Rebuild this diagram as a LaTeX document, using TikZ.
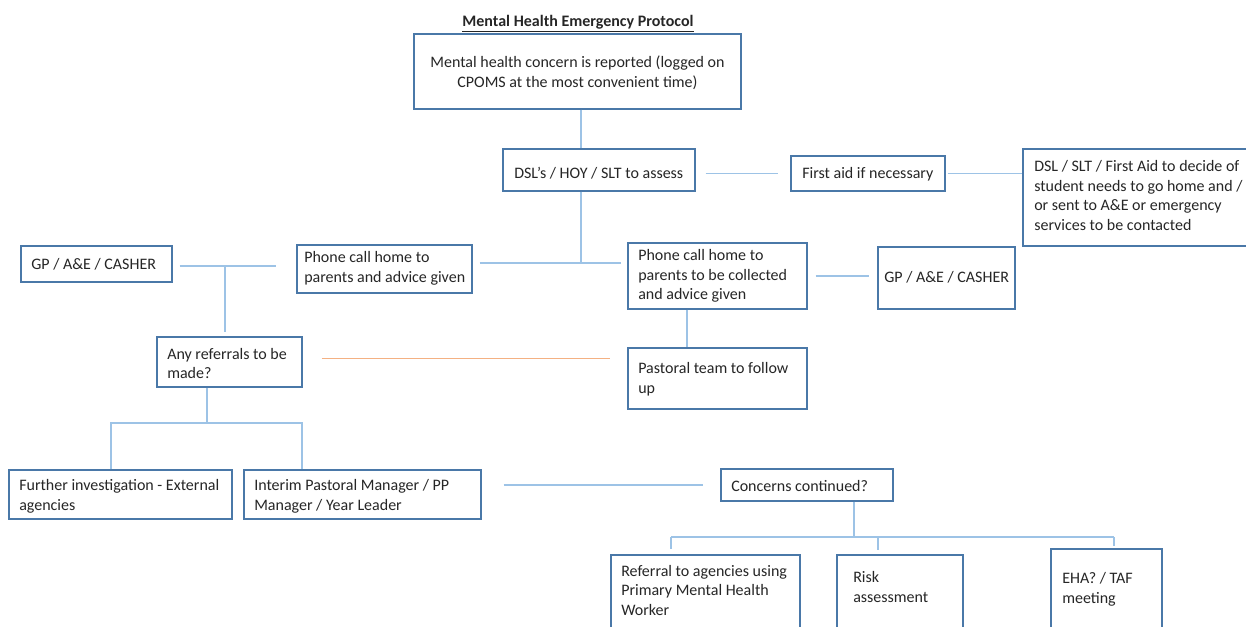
\documentclass[tikz,border=0pt]{standalone}
\usepackage{fontspec}
\setmainfont{Carlito}
\usetikzlibrary{fit,calc}
\definecolor{boxc}{HTML}{4A78A8}
\definecolor{linec}{HTML}{9DC3E6}
\definecolor{orangec}{HTML}{F4B183}
\definecolor{textc}{HTML}{262626}
\tikzset{
  box/.style={draw=boxc, line width=1.1pt, inner sep=0pt, fill=white},
  txt/.style={text=textc, font=\fontsize{12pt}{14.8pt}\selectfont, align=left, inner sep=0pt, anchor=west, yshift=-1.1pt},
  conn/.style={draw=linec, line width=1pt},
  oconn/.style={draw=orangec, line width=1pt},
}
\begin{document}
\begin{tikzpicture}[x=0.75pt,y=-0.75pt]
\useasboundingbox (0,0) rectangle (1246,627);
\clip (0,0) rectangle (1246,627);

% junction coordinates
\coordinate (j1) at (581,263);
\coordinate (j2) at (687,0);
\coordinate (j3) at (0,358.5);
\coordinate (j4) at (225,266);
\coordinate (j5) at (207,423);
\coordinate (j6) at (111,0);
\coordinate (j7) at (302,0);
\coordinate (j8) at (854,537);
\coordinate (j9) at (671,0);
\coordinate (j10) at (878,0);
\coordinate (j11) at (1114,0);

% title
\node[txt, anchor=base, yshift=0pt, font=\bfseries\fontsize{12pt}{14.6pt}\selectfont] (title) at (578,25) {\underline{Mental Health Emergency Protocol}};

% boxes
\node[box, fit={(414,34) (741,109)}] (top) {};
\node[box, fit={(503,149) (695,191)}] (dsl) {};
\node[box, fit={(791,156) (945,191)}] (fa) {};
\node[box, fit={(1023,149) (1260,246)}] (slt) {};
\node[box, fit={(21,246) (172,282)}] (gpl) {};
\node[box, fit={(297,245) (472,293)}] (advice) {};
\node[box, fit={(628,243) (807,309)}] (collect) {};
\node[box, fit={(878,247) (1015,309)}] (gpr) {};
\node[box, fit={(157,337) (302,387)}] (refq) {};
\node[box, fit={(628,348) (807,409)}] (pastoral) {};
\node[box, fit={(9,470) (232,519)}] (further) {};
\node[box, fit={(244,470) (481,519)}] (interim) {};
\node[box, fit={(721,469) (893,501)}] (concerns) {};
\node[box, fit={(611,555) (800,640)}] (referral) {};
\node[box, fit={(837,555) (963,640)}] (risk) {};
\node[box, fit={(1051,549) (1162,640)}] (eha) {};

% texts
\node[txt, align=center, anchor=center] (top-t) at (top.center) {Mental health concern is reported (logged on\\CPOMS at the most convenient time)};
\node[txt] (dsl-t) at (514,172) {DSL’s / HOY / SLT to assess};
\node[txt] (fa-t) at (802,173) {First aid if necessary};
\node[txt] (slt-t) at (1034,194) {DSL / SLT / First Aid to decide of\\student needs to go home and /\\or sent to A\&E or emergency\\services to be contacted};
\node[txt] (gpl-t) at (31,263) {GP / A\&E / CASHER};
\node[txt] (advice-t) at (304,266.5) {Phone call home to\\parents and advice given};
\node[txt] (collect-t) at (638,274.5) {Phone call home to\\parents to be collected\\and advice given};
\node[txt] (gpr-t) at (884,276) {GP / A\&E / CASHER};
\node[txt] (refq-t) at (167,362) {Any referrals to be\\made?};
\node[txt] (pastoral-t) at (638,378) {Pastoral team to follow\\up};
\node[txt] (further-t) at (19,494.5) {Further investigation - External\\agencies};
\node[txt] (interim-t) at (254,494.5) {Interim Pastoral Manager / PP\\Manager / Year Leader};
\node[txt] (concerns-t) at (731,485) {Concerns continued?};
\node[txt] (referral-t) at (621,589) {Referral to agencies using\\Primary Mental Health\\Worker};
\node[txt] (risk-t) at (853,585.5) {Risk\\assessment};
\node[txt] (eha-t) at (1062,587.5) {EHA? / TAF\\meeting};

% connectors
\draw[conn] (top.south -| j1) -- (dsl.north -| j1);
\draw[conn, shorten <=7.5pt, shorten >=9pt] (dsl.east |- fa.west) -- (fa.west);
\draw[conn, shorten <=1.5pt] (fa.east) -- (fa.east -| slt.west);
\draw[conn] (dsl.south -| j1) -- (j1);
\draw[conn, shorten <=5.25pt, shorten >=4.5pt] (advice.east |- j1) -- (collect.west |- j1);
\draw[conn, shorten <=6pt, shorten >=6pt] (collect.east) -- (collect.east -| gpr.west);
\draw[conn] (collect.south -| j2) -- (pastoral.north -| j2);
\draw[oconn, shorten <=14.25pt, shorten >=12.75pt] (refq.east |- j3) -- (pastoral.west |- j3);
\draw[conn, shorten <=5.25pt, shorten >=15pt] (gpl.east |- j4) -- (advice.west |- j4);
\draw[conn, shorten >=3pt] (j4) -- (refq.north -| j4);
\draw[conn] (refq.south -| j5) -- (j5);
\draw[conn] (j6 |- further.north) -- (j6 |- j5) -- (j7 |- j5) -- (j7 |- interim.north);
\draw[conn, shorten <=16.5pt, shorten >=12.75pt] (interim.east |- concerns.west) -- (concerns.west);
\draw[conn] (concerns.south -| j8) -- (j8);
\draw[conn] (j8 -| j9) -- (j8 -| j11);
\draw[conn, shorten >=3.75pt] (j8 -| j9) -- (referral.north -| j9);
\draw[conn, shorten >=3pt] (j8 -| j10) -- (risk.north -| j10);
\draw[conn, shorten >=1.5pt] (j8 -| j11) -- (eha.north -| j11);
\end{tikzpicture}
\end{document}
